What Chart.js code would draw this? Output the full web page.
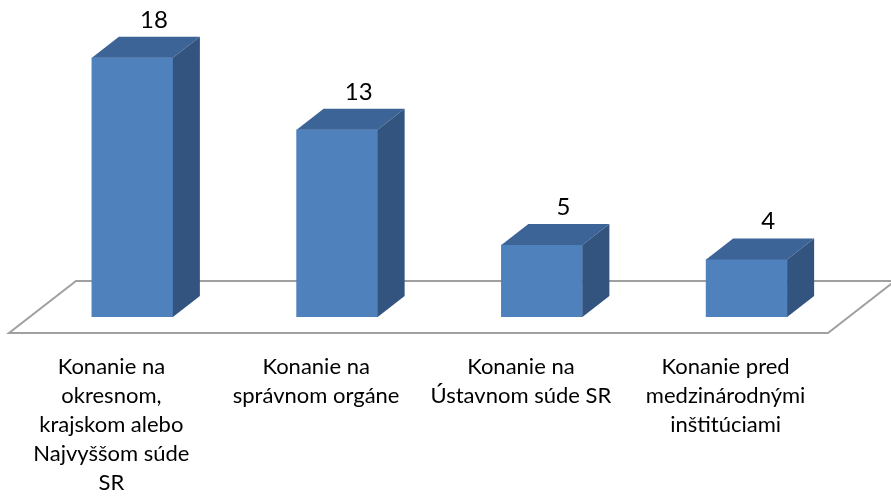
<!doctype html>
<html lang="sk">
  <head>
    <meta charset="utf-8">
    <title>Konanie</title>
    <style>
      * {
        margin: 0;
        padding: 0;
      }
      body {
        background: #fff;
      }
      .chartBox {
        width: 891px;
        height: 497px;
        position: relative;
      }
    </style>
  </head>
  <body>
    <div class="chartBox">
      <canvas id="myChart"></canvas>
    </div>

    <script src="https://cdn.jsdelivr.net/npm/chart.js"></script>
    <script>
    // setup
    const categories = [
      ['Konanie na', 'okresnom,', 'krajskom alebo', 'Najvyššom súde', 'SR'],
      ['Konanie na', 'správnom orgáne'],
      ['Konanie na', 'Ústavnom súde SR'],
      ['Konanie pred', 'medzinárodnými', 'inštitúciami']
    ];
    const values = [18, 13, 5, 4];

    // 3d look
    const DX = 27, DY = 21;       // bar depth
    const FONT = 'Lato, "Open Sans", sans-serif';

    const bar3d = {
      id: 'bar3d',
      beforeDatasetsDraw(chart) {
        const { ctx, chartArea } = chart;
        const b = chartArea.bottom;
        // floor: front edge a bit in front of the bars, back edge behind them
        const fy = b + 16, by = b - DY - 15;
        const fxo = -21, bxo = 46;
        ctx.save();
        ctx.beginPath();
        ctx.moveTo(chartArea.left + fxo, fy);
        ctx.lineTo(chartArea.right + fxo, fy);
        ctx.lineTo(chartArea.right + bxo, by);
        ctx.lineTo(chartArea.left + bxo, by);
        ctx.closePath();
        ctx.fillStyle = '#fff';
        ctx.fill();
        ctx.strokeStyle = '#a0a0a0';
        ctx.lineWidth = 2;
        ctx.stroke();
        ctx.restore();
      },
      afterDatasetsDraw(chart) {
        const { ctx } = chart;
        const meta = chart.getDatasetMeta(0);
        ctx.save();
        meta.data.forEach((bar, i) => {
          const x1 = bar.x - bar.width / 2, x2 = bar.x + bar.width / 2;
          const top = bar.y, bottom = bar.base;
          // top face
          ctx.beginPath();
          ctx.moveTo(x1, top);
          ctx.lineTo(x2, top);
          ctx.lineTo(x2 + DX, top - DY);
          ctx.lineTo(x1 + DX, top - DY);
          ctx.closePath();
          ctx.fillStyle = '#3d6497';
          ctx.fill();
          // side face
          ctx.beginPath();
          ctx.moveTo(x2, top);
          ctx.lineTo(x2 + DX, top - DY);
          ctx.lineTo(x2 + DX, bottom - DY);
          ctx.lineTo(x2, bottom);
          ctx.closePath();
          ctx.fillStyle = '#32547e';
          ctx.fill();
          // value label
          ctx.fillStyle = '#000';
          ctx.font = '24px ' + FONT;
          ctx.textAlign = 'center';
          ctx.textBaseline = 'middle';
          ctx.fillText(values[i], bar.x + DX * 0.8, top - DY - 17);
        });
        ctx.restore();
      }
    };

    const data = {
      labels: categories,
      datasets: [{
        data: values,
        backgroundColor: '#4f81bd',
        barThickness: 81
      }]
    };

    // config
    const config = {
      type: 'bar',
      data,
      options: {
        responsive: true,
        maintainAspectRatio: false,
        animation: false,
        layout: {
          padding: { top: 29, left: 30, right: 42, bottom: 0 }
        },
        plugins: {
          legend: { display: false },
          tooltip: { enabled: false }
        },
        scales: {
          x: {
            grid: { display: false, drawTicks: false },
            border: { display: false },
            ticks: {
              color: '#000',
              font: { family: FONT, size: 22, lineHeight: 1.32 },
              padding: 35,
              labelOffset: -21,
              maxRotation: 0,
              autoSkip: false
            },
            afterFit: (scale) => { scale.height = 180; }
          },
          y: {
            display: false,
            min: 0,
            max: 20
          }
        }
      },
      plugins: [bar3d]
    };

    // render init block
    const myChart = new Chart(document.getElementById('myChart'), config);
    </script>
  </body>
</html>
